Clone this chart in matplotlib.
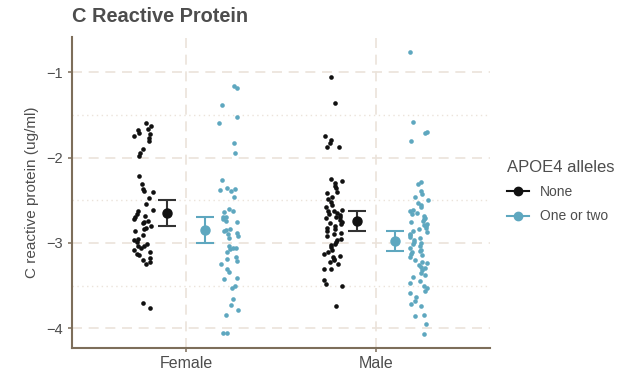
import numpy as np
import matplotlib.pyplot as plt
from matplotlib.lines import Line2D

plt.rcParams['font.family'] = ['Liberation Sans', 'DejaVu Sans']

# sexes on the x axis and APOE4 groups
sexes = ['Female', 'Male']
groups = ['None', 'One or two']

# C reactive protein values (log scale)
female_none = [-1.59, -1.63, -1.66, -1.68, -1.71, -1.72, -1.75, -1.77, -1.80, -1.90,
               -1.94, -1.98, -2.22, -2.31, -2.37, -2.39, -2.40, -2.47, -2.54, -2.61,
               -2.62, -2.66, -2.68, -2.70, -2.72, -2.75, -2.77, -2.80, -2.82, -2.84,
               -2.91, -2.95, -2.96, -2.99, -3.01, -3.04, -3.06, -3.08, -3.11, -3.13,
               -3.14, -3.18, -3.20, -3.22, -3.25, -2.74, -2.86, -3.03, -3.70, -3.76]
female_one = [-1.16, -1.18, -1.38, -1.52, -1.59, -1.83, -1.94, -2.26, -2.35, -2.37,
              -2.38, -2.39, -2.46, -2.60, -2.63, -2.64, -2.69, -2.70, -2.72, -2.74,
              -2.75, -2.84, -2.85, -2.86, -2.88, -2.90, -2.92, -2.94, -3.04, -3.06,
              -3.06, -3.07, -3.10, -3.17, -3.19, -3.21, -3.25, -3.31, -3.34, -3.41,
              -3.42, -3.51, -3.53, -3.66, -3.73, -3.79, -3.84, -4.05, -4.06]
male_none = [-1.05, -1.36, -1.75, -1.79, -1.83, -1.87, -1.88, -2.25, -2.27, -2.30,
             -2.33, -2.36, -2.40, -2.41, -2.46, -2.48, -2.52, -2.58, -2.61, -2.62,
             -2.65, -2.66, -2.67, -2.69, -2.71, -2.73, -2.75, -2.78, -2.80, -2.83,
             -2.86, -2.88, -2.90, -2.92, -2.95, -2.99, -3.01, -3.02, -3.08, -3.10,
             -3.13, -3.15, -3.17, -3.19, -3.22, -3.25, -3.30, -3.31, -3.43, -3.48,
             -3.51, -3.74, -2.55, -2.63, -2.70, -2.77, -2.84, -2.97, -3.05, -3.20]
male_one = [-0.76, -1.58, -1.70, -1.71, -1.81, -2.29, -2.31, -2.39, -2.43, -2.46,
            -2.50, -2.53, -2.55, -2.58, -2.61, -2.63, -2.65, -2.68, -2.71, -2.74,
            -2.76, -2.78, -2.79, -2.82, -2.84, -2.87, -2.89, -2.91, -2.93, -2.96,
            -2.99, -3.01, -3.04, -3.06, -3.09, -3.11, -3.14, -3.17, -3.20, -3.23,
            -3.26, -3.29, -3.32, -3.35, -3.40, -3.44, -3.47, -3.50, -3.53, -3.56,
            -3.59, -3.63, -3.68, -3.72, -3.74, -3.84, -3.86, -3.95, -4.07, -2.66,
            -2.72, -2.80, -2.86, -2.94, -3.00, -3.08, -3.13, -3.22, -3.28, -3.37]

# group means and standard errors (Female, Male)
mean_none = [-2.65, -2.74]
se_none = [0.155, 0.12]
mean_one = [-2.85, -2.98]
se_one = [0.155, 0.115]

colors = ['#111111', '#5ea7bf']
bar_colors = ['#333333', '#5ea7bf']
grid_col = '#ebe3da'
spine_col = '#7d6e5a'
text_col = '#4d4d4d'

fig = plt.figure(figsize=(6.2, 3.74), dpi=100)
ax = fig.add_axes([72 / 620, 1 - 348 / 374, 418 / 620, 311 / 374])

rng = np.random.default_rng(7)
points = [[female_none, male_none], [female_one, male_one]]
means = [mean_none, mean_one]
ses = [se_none, se_one]
for g in range(2):
    side = -1 if g == 0 else 1
    for s in range(2):
        vals = np.array(points[g][s])
        xs = s + 1 + side * 0.225 + rng.uniform(-0.05, 0.05, len(vals))
        ax.scatter(xs, vals, s=11, color=colors[g], linewidths=0, zorder=3)
    xm = np.arange(1, 3) + side * 0.1
    ax.errorbar(xm, means[g], yerr=ses[g], fmt='none', ecolor=bar_colors[g],
                elinewidth=1.5, capsize=6.8, capthick=1.5, zorder=4)
    ax.plot(xm, means[g], 'o', color=colors[g], markersize=6.5, zorder=5)

ax.set_xlim(0.4, 2.6)
ax.set_ylim(-4.231, -0.586)
ax.set_xticks([1, 2])
ax.set_xticklabels(sexes)
ax.set_yticks([-1, -2, -3, -4])
ax.set_yticks([-1.5, -2.5, -3.5], minor=True)

ax.grid(True, which='major', axis='both', color=grid_col, linestyle=(0, (6, 4)), linewidth=1.2, zorder=0)
ax.grid(True, which='minor', axis='y', color=grid_col, linestyle=(0, (1, 2.5)), linewidth=1.0, zorder=0)
ax.set_axisbelow(True)

for side_name in ['top', 'right']:
    ax.spines[side_name].set_visible(False)
for side_name in ['left', 'bottom']:
    ax.spines[side_name].set_color(spine_col)
    ax.spines[side_name].set_linewidth(1.5)

ax.tick_params(axis='both', which='major', color=spine_col, length=3, width=1.1,
               labelcolor=text_col)
ax.tick_params(axis='y', labelsize=10.5)
ax.tick_params(axis='x', labelsize=11.5, pad=3)
ax.tick_params(axis='y', which='minor', length=0)

ax.set_ylabel('C reactive protein (ug/ml)', fontsize=11, color=text_col)
ax.yaxis.set_label_coords(-0.079, 0.5)

fig.text(72 / 620, 1 - 17 / 374, 'C Reactive Protein', fontsize=14.4, fontweight='bold',
         color=text_col, ha='left', va='center')

handles = [Line2D([0], [0], color=colors[i], marker='o', markersize=6, linewidth=1.5)
           for i in range(2)]
leg = fig.legend(handles, groups, title='APOE4 alleles', loc='center left',
                 bbox_to_anchor=(0.797, 0.488), frameon=False, fontsize=10,
                 title_fontsize=12, handlelength=1.6, handletextpad=0.8, labelspacing=0.75)
leg._legend_box.align = 'left'
leg.get_title().set_color(text_col)
for t in leg.get_texts():
    t.set_color(text_col)

fig.savefig('out.png', dpi=100, facecolor='white')
